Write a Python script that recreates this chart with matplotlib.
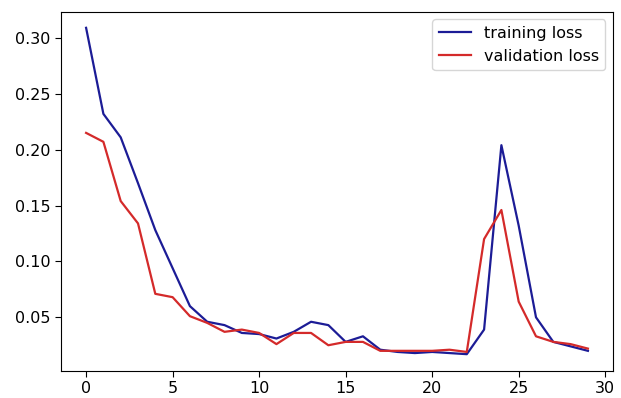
import matplotlib
matplotlib.use("Agg")
import matplotlib.pyplot as plt

epochs = list(range(30))
training_loss = [0.309, 0.232, 0.211, 0.170, 0.128, 0.094, 0.060, 0.046, 0.043, 0.036,
                 0.035, 0.031, 0.037, 0.046, 0.043, 0.028, 0.033, 0.021, 0.019, 0.018,
                 0.019, 0.018, 0.017, 0.039, 0.204, 0.132, 0.050, 0.028, 0.024, 0.020]
validation_loss = [0.215, 0.207, 0.154, 0.134, 0.071, 0.068, 0.051, 0.045, 0.037, 0.039,
                   0.036, 0.026, 0.036, 0.036, 0.025, 0.028, 0.028, 0.020, 0.020, 0.020,
                   0.020, 0.021, 0.019, 0.120, 0.146, 0.064, 0.033, 0.028, 0.026, 0.022]

fig = plt.figure(figsize=(6.21, 3.98), dpi=100)
ax = fig.add_axes([61/621, 1 - 370.5/398, 552/621, 359/398])
ax.plot(epochs, training_loss, color='#1c1c96', linewidth=1.6, label='training loss')
ax.plot(epochs, validation_loss, color='#d42a2a', linewidth=1.6, label='validation loss')
ax.set_xticks([0, 5, 10, 15, 20, 25, 30])
ax.set_yticks([0.05, 0.10, 0.15, 0.20, 0.25, 0.30])
ax.tick_params(labelsize=11.5, length=4)
ax.legend(loc='upper right', fontsize=11.5)
fig.savefig("out.png", dpi=100)
